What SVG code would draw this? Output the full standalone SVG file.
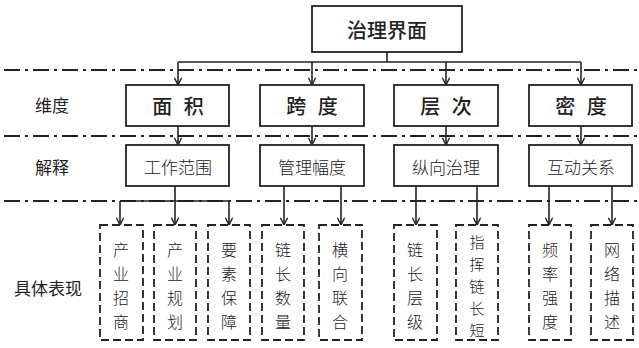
<svg xmlns="http://www.w3.org/2000/svg" width="639" height="348" viewBox="0 0 639 348">
<defs>
<style>
.box{fill:#fff;stroke:#222;stroke-width:1.8}
.dbox{fill:#fff;stroke:#222;stroke-width:1.8;stroke-dasharray:8 4}
.sep{stroke:#222;stroke-width:2;stroke-dasharray:16 5 3 5;fill:none}
.ln{stroke:#222;stroke-width:1.6;fill:none}
.t{font-family:"Noto Sans CJK SC","Noto Sans",sans-serif;fill:#222;text-anchor:middle;dominant-baseline:central}
.t1{font-size:20px;font-weight:500}
.sp{word-spacing:7px}
.t2{font-size:17px;font-weight:300}
.v{font-size:16px;font-weight:300}
.v5{font-size:15px;font-weight:300}
.lab{font-size:17px}
</style>
<marker id="ah" viewBox="0 0 10 10" refX="9" refY="5" markerWidth="9" markerHeight="9" markerUnits="userSpaceOnUse" orient="auto">
<path d="M1,1 L9,5 L1,9" fill="none" stroke="#222" stroke-width="1.6"/>
</marker>
</defs>
<rect width="639" height="348" fill="#fff"/>
<g id="separators">
<line class="sep" x1="4" y1="70" x2="639" y2="70"/>
<line class="sep" x1="4" y1="136" x2="639" y2="136"/>
<line class="sep" x1="4" y1="201" x2="639" y2="201"/>
</g>
<g id="connectors">
<path class="ln" d="M387,52 V62 M178,62 H581"/>
<path class="ln" marker-end="url(#ah)" d="M178,62 V85"/>
<path class="ln" marker-end="url(#ah)" d="M312,62 V85"/>
<path class="ln" marker-end="url(#ah)" d="M446,62 V85"/>
<path class="ln" marker-end="url(#ah)" d="M581,62 V85"/>
<path class="ln" marker-end="url(#ah)" d="M178,126 V145"/>
<path class="ln" marker-end="url(#ah)" d="M312,126 V145"/>
<path class="ln" marker-end="url(#ah)" d="M446,126 V145"/>
<path class="ln" marker-end="url(#ah)" d="M581,126 V145"/>
<path class="ln" d="M175,186 V201 M120,201 H229"/>
<path class="ln" marker-end="url(#ah)" d="M120,201 V225"/>
<path class="ln" marker-end="url(#ah)" d="M175,201 V225"/>
<path class="ln" marker-end="url(#ah)" d="M229,201 V225"/>
<path class="ln" marker-end="url(#ah)" d="M284,186 V225"/>
<path class="ln" marker-end="url(#ah)" d="M341,186 V225"/>
<path class="ln" marker-end="url(#ah)" d="M416,186 V225"/>
<path class="ln" marker-end="url(#ah)" d="M477,186 V225"/>
<path class="ln" marker-end="url(#ah)" d="M549,186 V225"/>
<path class="ln" marker-end="url(#ah)" d="M612,186 V225"/>
</g>
<g id="labels">
<text class="t lab" x="52" y="104">维度</text>
<text class="t lab" x="52" y="166">解释</text>
<text class="t lab" x="48" y="287">具体表现</text>
</g>
<g id="root"><rect class="box" x="312" y="6" width="150" height="46"/><text class="t t1" x="387" y="29">治理界面</text></g>
<g id="d1"><rect class="box" x="126" y="85" width="103" height="41"/><text class="t t1 sp" x="178" y="105">面 积</text></g>
<g id="d2"><rect class="box" x="260" y="85" width="104" height="41"/><text class="t t1 sp" x="312" y="105">跨 度</text></g>
<g id="d3"><rect class="box" x="394" y="85" width="104" height="41"/><text class="t t1 sp" x="446" y="105">层 次</text></g>
<g id="d4"><rect class="box" x="529" y="85" width="103" height="41"/><text class="t t1 sp" x="581" y="105">密 度</text></g>
<g id="e1"><rect class="box" x="126" y="145" width="103" height="41"/><text class="t t2" x="178" y="166">工作范围</text></g>
<g id="e2"><rect class="box" x="260" y="145" width="104" height="41"/><text class="t t2" x="312" y="166">管理幅度</text></g>
<g id="e3"><rect class="box" x="394" y="145" width="104" height="41"/><text class="t t2" x="446" y="166">纵向治理</text></g>
<g id="e4"><rect class="box" x="529" y="145" width="103" height="41"/><text class="t t2" x="581" y="166">互动关系</text></g>
<g id="s1"><rect class="dbox" x="100" y="225" width="43" height="115"/>
<text class="t v" x="121" y="248.5">产</text><text class="t v" x="121" y="272.5">业</text><text class="t v" x="121" y="296.5">招</text><text class="t v" x="121" y="320.5">商</text></g>
<g id="s2"><rect class="dbox" x="154" y="225" width="42" height="115"/>
<text class="t v" x="175" y="248.5">产</text><text class="t v" x="175" y="272.5">业</text><text class="t v" x="175" y="296.5">规</text><text class="t v" x="175" y="320.5">划</text></g>
<g id="s3"><rect class="dbox" x="208" y="225" width="42" height="115"/>
<text class="t v" x="229" y="248.5">要</text><text class="t v" x="229" y="272.5">素</text><text class="t v" x="229" y="296.5">保</text><text class="t v" x="229" y="320.5">障</text></g>
<g id="s4"><rect class="dbox" x="262" y="225" width="42" height="115"/>
<text class="t v" x="283" y="248.5">链</text><text class="t v" x="283" y="272.5">长</text><text class="t v" x="283" y="296.5">数</text><text class="t v" x="283" y="320.5">量</text></g>
<g id="s5"><rect class="dbox" x="319" y="225" width="43" height="115"/>
<text class="t v" x="340" y="248.5">横</text><text class="t v" x="340" y="272.5">向</text><text class="t v" x="340" y="296.5">联</text><text class="t v" x="340" y="320.5">合</text></g>
<g id="s6"><rect class="dbox" x="394" y="225" width="43" height="115"/>
<text class="t v" x="415" y="248.5">链</text><text class="t v" x="415" y="272.5">长</text><text class="t v" x="415" y="296.5">层</text><text class="t v" x="415" y="320.5">级</text></g>
<g id="s7"><rect class="dbox" x="456" y="225" width="42" height="115"/>
<text class="t v5" x="477" y="241">指</text><text class="t v5" x="477" y="263">挥</text><text class="t v5" x="477" y="285">链</text><text class="t v5" x="477" y="307">长</text><text class="t v5" x="477" y="329">短</text></g>
<g id="s8"><rect class="dbox" x="529" y="225" width="42" height="115"/>
<text class="t v" x="550" y="248.5">频</text><text class="t v" x="550" y="272.5">率</text><text class="t v" x="550" y="296.5">强</text><text class="t v" x="550" y="320.5">度</text></g>
<g id="s9"><rect class="dbox" x="591" y="225" width="42" height="115"/>
<text class="t v" x="612" y="248.5">网</text><text class="t v" x="612" y="272.5">络</text><text class="t v" x="612" y="296.5">描</text><text class="t v" x="612" y="320.5">述</text></g>
</svg>
